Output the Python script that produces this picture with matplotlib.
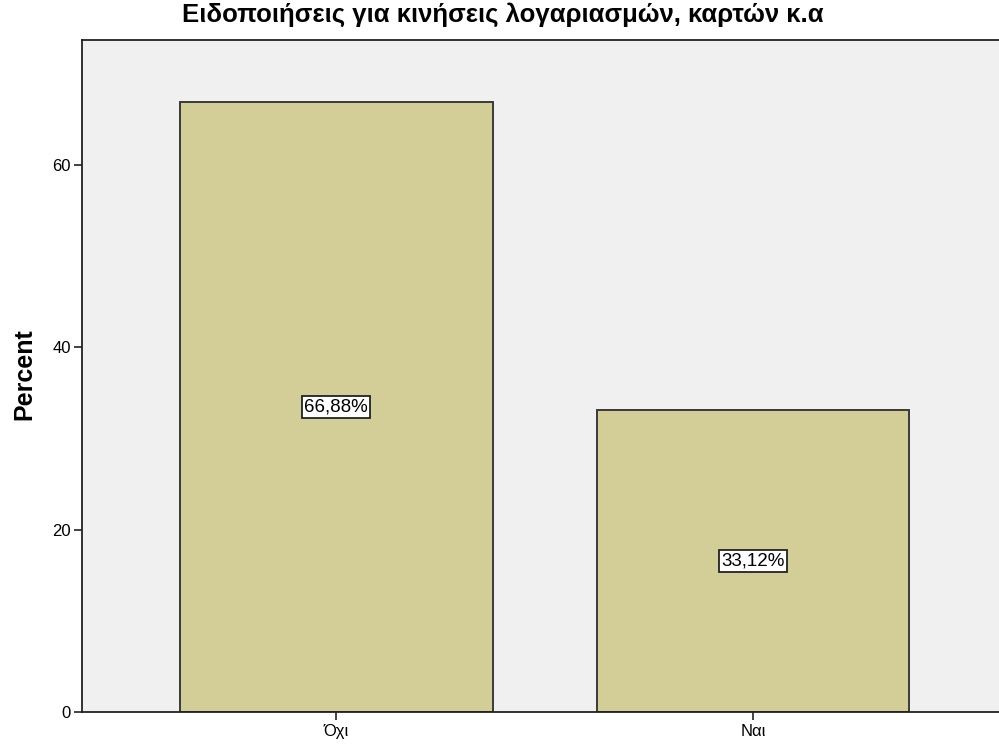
import numpy as np
import matplotlib
matplotlib.use("Agg")
import matplotlib.pyplot as plt

plt.rcParams['font.family'] = ['Liberation Sans', 'DejaVu Sans']

#Datos del gráfico
categorias = ["Όχι", "Ναι"]
porcentajes = [66.88, 33.12]
etiquetas = ["66,88%", "33,12%"]
marcas_y = [0, 20, 40, 60]

fig = plt.figure(figsize=(9.99, 7.49), dpi=100)
ax = fig.add_axes([0.0821, 0.0494, 0.9179, 0.8972])
ax.set_facecolor("#f0f0f0")

x = np.arange(len(categorias))
ax.bar(x, porcentajes, width=0.75, color="#d3ce97", edgecolor="#3a3a3a", linewidth=1.4)

for xi, v, txt in zip(x, porcentajes, etiquetas):
    ax.text(xi, v / 2, txt, ha="center", va="center", fontsize=13.5,
            bbox=dict(boxstyle="square,pad=0.12", facecolor="white", edgecolor="#222222", linewidth=1.3))

ax.set_xlim(-0.61, 1.59)
ax.set_ylim(0, 73.7)
ax.set_xticks(x)
ax.set_xticklabels(categorias, fontsize=12)
ax.set_yticks(marcas_y)
ax.set_yticklabels([str(m) for m in marcas_y], fontsize=12)
ax.tick_params(axis="both", direction="out", length=6, width=1.2, color="#222222")
ax.tick_params(axis="x", pad=3)
ax.tick_params(axis="y", pad=2)

for s in ["left", "bottom", "top"]:
    ax.spines[s].set_linewidth(1.3)
    ax.spines[s].set_color("#222222")
ax.spines["right"].set_visible(False)

ax.set_ylabel("Percent", fontsize=18, fontweight="bold")
ax.yaxis.set_label_coords(-0.05, 0.503)
fig.text(0.503, 0.981, "Ειδοποιήσεις για κινήσεις λογαριασμών, καρτών κ.α", ha="center", va="center",
         fontsize=18.5, fontweight="bold")

plt.savefig("out.png", dpi=100)
